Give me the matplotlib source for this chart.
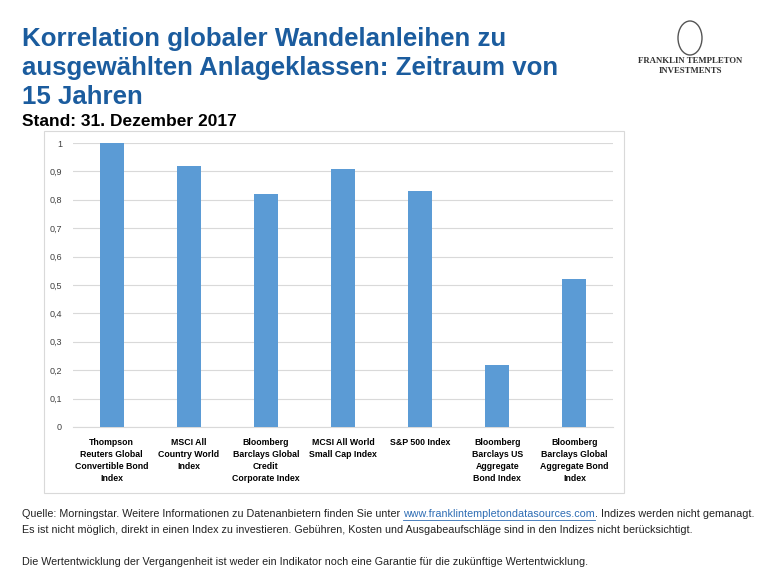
import matplotlib.pyplot as plt
from matplotlib.patches import Rectangle, Ellipse

plt.rcParams['font.family'] = ['Liberation Sans', 'DejaVu Sans']

categories = ['Thompson\nReuters Global\nConvertible Bond\nIndex',
              'MSCI All\nCountry World\nIndex',
              'Bloomberg\nBarclays Global\nCredit\nCorporate Index',
              'MCSI All World\nSmall Cap Index',
              'S&P 500 Index',
              'Bloomberg\nBarclays US\nAggregate\nBond Index',
              'Bloomberg\nBarclays Global\nAggregate Bond\nIndex']
values = [1.0, 0.92, 0.82, 0.91, 0.83, 0.22, 0.52]
yticks = [0, 0.1, 0.2, 0.3, 0.4, 0.5, 0.6, 0.7, 0.8, 0.9, 1.0]

W, H = 768, 573
fig = plt.figure(figsize=(W / 100, H / 100), dpi=100)

# chart frame
fig.patches.append(Rectangle((44 / W, 1 - 493 / H), 580 / W, 362 / H,
                             transform=fig.transFigure, fill=False,
                             edgecolor='#d9d9d9', linewidth=0.8))

ax = fig.add_axes([73 / W, 1 - 427 / H, 540 / W, 284 / H])
x = range(len(values))
ax.bar(x, values, width=0.31, color='#5b9bd5', zorder=3)
ax.set_xlim(-0.5, len(values) - 0.5)
ax.set_ylim(0, 1)
ax.set_yticks(yticks)
ax.set_yticklabels([('%g' % t).replace('.', ',') for t in yticks],
                   fontsize=6.5, color='#404040')
ax.set_xticks(list(x))
ax.set_xticklabels(categories, fontsize=6.3, fontweight='bold', linespacing=1.42)
ax.tick_params(length=0, pad=8)
ax.tick_params(axis='x', pad=8)
ax.grid(axis='y', color='#d9d9d9', linewidth=0.8, zorder=0)
for s in ['top', 'right', 'left']:
    ax.spines[s].set_visible(False)
ax.spines['bottom'].set_color('#d9d9d9')

# title
blue = '#1b5c9e'
fig.text(22 / W, 1 - 27 / H, 'Korrelation globaler Wandelanleihen zu\n'
         'ausgewählten Anlageklassen: Zeitraum von\n15 Jahren',
         fontsize=18.6, fontweight='bold', color=blue, va='top', linespacing=1.27)
fig.text(22 / W, 1 - 122 / H, 'Stand: 31. Dezember 2017', fontsize=12.5,
         fontweight='bold', color='black', va='center')

# logo
fig.patches.append(Ellipse((690 / W, 1 - 38 / H), 24 / W, 34 / H,
                           transform=fig.transFigure, fill=False,
                           edgecolor='#555555', linewidth=1.0))
fig.text(690 / W, 1 - 61 / H, 'FRANKLIN TEMPLETON', fontsize=6.3,
         family='Liberation Serif', fontweight='bold', ha='center', va='center',
         color='#333333')
fig.text(690 / W, 1 - 71 / H, 'INVESTMENTS', fontsize=6.3,
         family='Liberation Serif', fontweight='bold', ha='center', va='center',
         color='#333333')

# footer
fs = 7.75
t1 = fig.text(22 / W, 1 - 514 / H, 'Quelle: Morningstar. Weitere Informationen zu Datenanbietern finden Sie unter ',
              fontsize=fs, va='center', color='#222222')
fig.canvas.draw()
r = fig.canvas.get_renderer()
bb = t1.get_window_extent(r)
t2 = fig.text(bb.x1 / W, 1 - 514 / H, 'www.franklintempletondatasources.com',
              fontsize=fs, va='center', color='#2e6db4')
bb2 = t2.get_window_extent(r)
fig.lines.append(plt.Line2D([bb2.x0 / W, bb2.x1 / W], [(bb2.y0 - 0.5) / H] * 2,
                            transform=fig.transFigure, color='#2e6db4', linewidth=0.6))
fig.text(bb2.x1 / W, 1 - 514 / H, '. Indizes werden nicht gemanagt.',
         fontsize=fs, va='center', color='#222222')
fig.text(22 / W, 1 - 530 / H, 'Es ist nicht möglich, direkt in einen Index zu investieren. '
         'Gebühren, Kosten und Ausgabeaufschläge sind in den Indizes nicht berücksichtigt.',
         fontsize=fs, va='center', color='#222222')
fig.text(22 / W, 1 - 562 / H, 'Die Wertentwicklung der Vergangenheit ist weder ein Indikator '
         'noch eine Garantie für die zukünftige Wertentwicklung.',
         fontsize=fs, va='center', color='#222222')

fig.savefig('out.png', dpi=100)
